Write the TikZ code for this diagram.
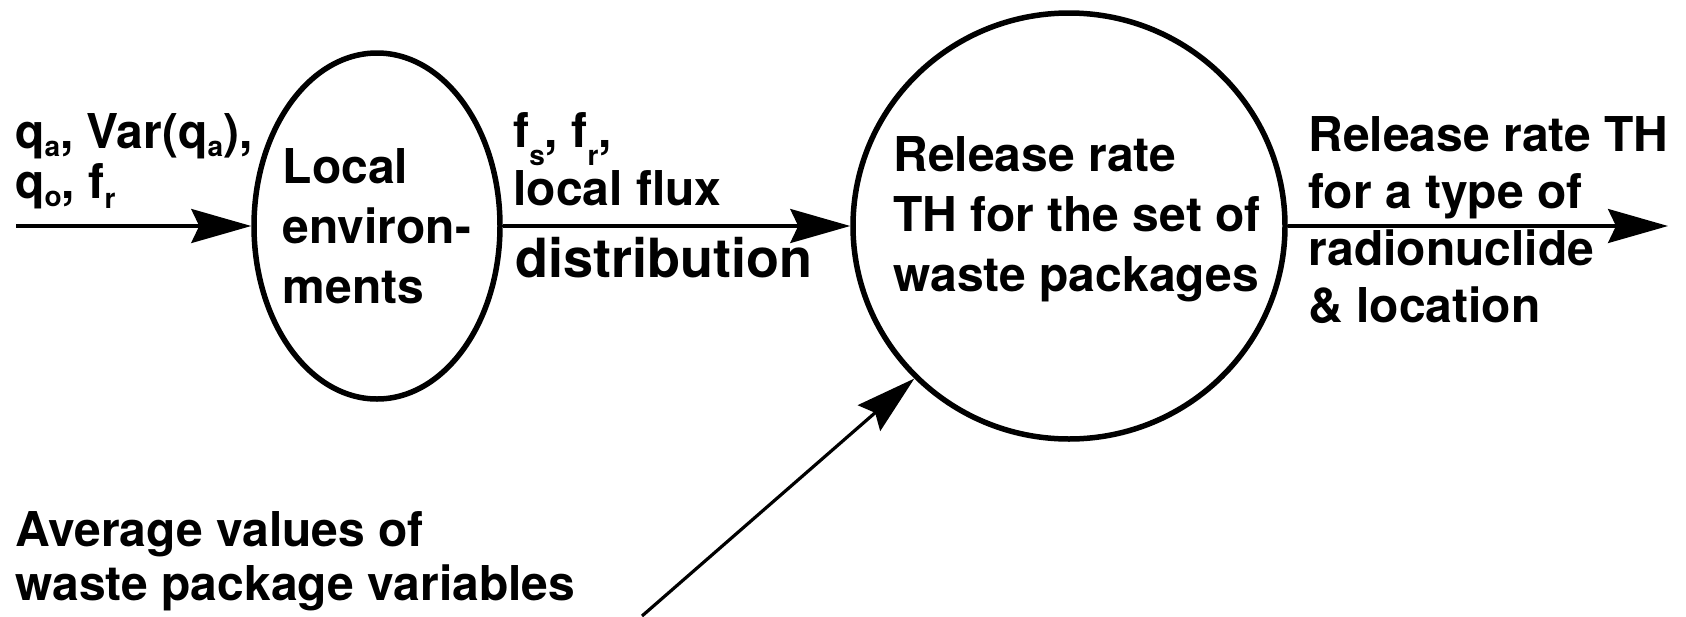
\documentclass[tikz,border=0pt]{standalone}
\usepackage{fontspec}
\setmainfont{TeX Gyre Heros}
\usetikzlibrary{arrows.meta, shapes.geometric, positioning}
\newcommand{\sbs}[2][4pt]{\raisebox{-#1}{\fontsize{14}{14}\selectfont #2}}
\newcommand{\lblfont}[2]{\bfseries\fontsize{#1}{#2}\selectfont}

\begin{document}
\begin{tikzpicture}[x=0.5pt, y=-0.5pt,
  proc/.style={ellipse, draw, line width=2.75pt, inner sep=0pt},
  arrow/.style={-{Stealth[length=30pt, width=17pt, inset=4pt]}, line width=1.6pt},
  lbl/.style={align=left, inner sep=0pt},
]
  \useasboundingbox (0,0) rectangle (1686,616);

  \node[proc, minimum width=123pt, minimum height=173pt] (env) at (377,226) {};
  \node[proc, minimum width=216pt, minimum height=213pt] (rel) at (1069,226) {};

  \node[lbl, font=\lblfont{24}{30}] (envtxt) at (env.center) {Local\\environ-\\ments};
  \node[lbl, font=\lblfont{24}{30}] (reltxt) at ([xshift=4pt, yshift=3.5pt]rel.center) {Release rate\\TH for the set of\\waste packages};

  \node[lbl, anchor=base west, font=\lblfont{24}{25}] (inputs) at (15,198) {q\sbs{a}, Var(q\sbs{a}),\\q\sbs{o}, f\sbs[5pt]{r}};
  \node[lbl, anchor=base west, font=\lblfont{24}{29}] (flux) at (513,205) {f\sbs[9pt]{s}, f\sbs[9pt]{r},\\local flux};
  \node[lbl, anchor=base west, font=\lblfont{27}{30}] (dist) at (515,277) {distribution};
  \node[lbl, anchor=base west, font=\lblfont{24}{28.5}] (output) at (1308,322) {Release rate TH\\for a type of\\radionuclide\\\& location};
  \node[lbl, anchor=base west, font=\lblfont{24}{27}] (avg) at (15,600) {Average values of\\waste package variables};

  \coordinate (src) at (16,226);
  \coordinate (sink) at (1668,226);
  \coordinate (foot) at (642,616);

  \draw[arrow] (src) -- (env);
  \draw[arrow] (env) -- (rel);
  \draw[arrow] (rel) -- (sink);
  \draw[arrow] (foot) -- (rel.south west);
\end{tikzpicture}
\end{document}
